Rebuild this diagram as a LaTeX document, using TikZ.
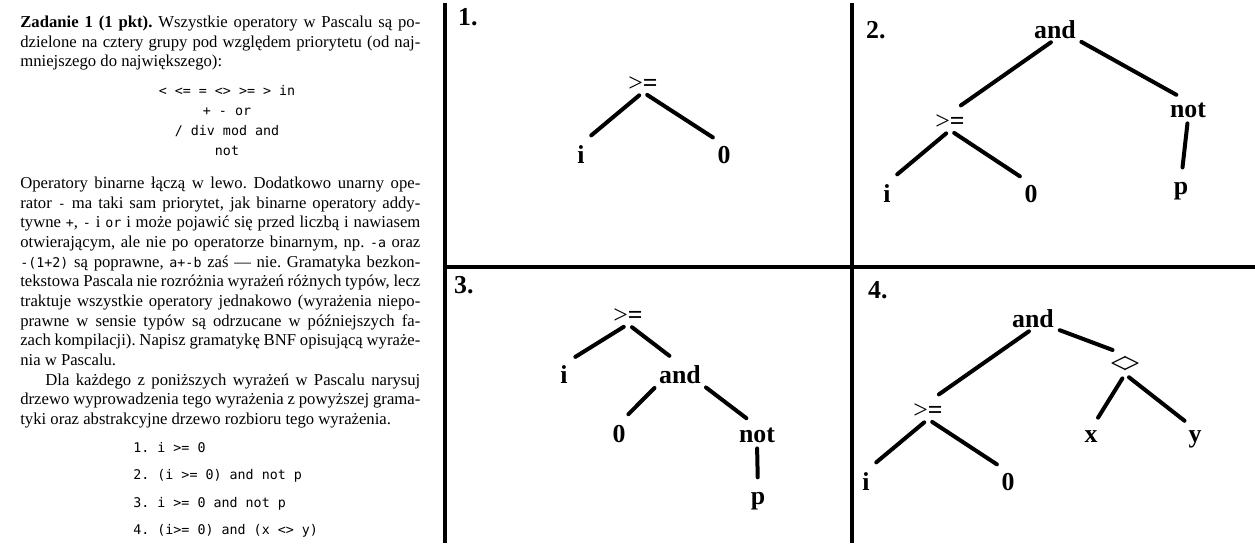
\documentclass[tikz,border=0pt]{standalone}
\usepackage{fontspec}
\setmainfont{Liberation Serif}
\setmonofont[Scale=0.8]{DejaVu Sans Mono}
\usepackage{tikz}
\frenchspacing

\newcommand{\geop}{{\mdseries>}=}

\begin{document}
\begin{tikzpicture}[x=0.6pt, y=-0.6pt,
      lbl/.style={font=\fontsize{15.5}{18}\selectfont\bfseries, inner sep=0.5pt, anchor=base},
      edge/.style={line width=2.4pt, line cap=round, shorten <=3pt, shorten >=8pt},
      rule/.style={line width=2.7pt},
      prose/.style={anchor=north west, text width=240pt, inner sep=0, align=justify,
        font=\fontsize{10}{11.8}\selectfont}
      ]
  \useasboundingbox (0,0) rectangle (1255,543);

  \node[prose] (zad) at (20,15.5) {\textbf{Zadanie 1 (1 pkt).} Wszystkie operatory w Pascalu są po-\linebreak dzielone na cztery grupy pod względem priorytetu (od naj-\linebreak mniejszego do największego):};
  \node[anchor=north, align=center, inner sep=0, font=\ttfamily\fontsize{10}{12}\selectfont] (ops) at (227,85)
    {< <= = <> >= > in\\+ - or\\/ div mod and\\not};
  \node[prose] (opis) at (20,176.5) {Operatory binarne łączą w lewo. Dodatkowo unarny ope-\linebreak rator \texttt{-} ma taki sam priorytet, jak binarne operatory addy-\linebreak tywne \texttt{+}, \texttt{-} i \texttt{or} i może pojawić się przed liczbą i nawiasem\linebreak otwierającym, ale nie po operatorze binarnym, np. \texttt{-a} oraz\linebreak \texttt{-(1+2)} są poprawne, \texttt{a+-b} zaś — nie. Gramatyka bezkon-\linebreak tekstowa Pascala nie rozróżnia wyrażeń różnych typów, lecz\linebreak traktuje wszystkie operatory jednakowo (wyrażenia niepo-\linebreak prawne w sensie typów są odrzucane w późniejszych fa-\linebreak zach kompilacji). Napisz gramatykę BNF opisującą wyraże-\linebreak nia w Pascalu.\par
    \hspace*{15pt}Dla każdego z poniższych wyrażeń w Pascalu narysuj\linebreak drzewo wyprowadzenia tego wyrażenia z powyższej grama-\linebreak tyki oraz abstrakcyjne drzewo rozbioru tego wyrażenia.};
  \node[anchor=north west, align=left, inner sep=0, font=\ttfamily\fontsize{10}{16.4}\selectfont] (lista) at (133,442)
    {1. i >= 0\\2. (i >= 0) and not p\\3. i >= 0 and not p\\4. (i>= 0) and (x <> y)};

  \draw[rule] (445,3) -- (445,543);
  \draw[rule] (852,3) -- (852,543);
  \draw[rule] (445,267) -- (1255,267);

  \node[lbl, anchor=base west] (nr1) at (457,25) {1.};
  \node[lbl, anchor=base west] (nr2) at (865,38) {2.};
  \node[lbl, anchor=base west] (nr3) at (453,293) {3.};
  \node[lbl, anchor=base west] (nr4) at (867,298) {4.};

  \node[lbl] (ge1) at (643,91) {\geop};
  \node[lbl] (i1) at (581,163) {i};
  \node[lbl] (z1) at (724,163) {0};
  \draw[edge] (ge1.south) -- (i1.north);
  \draw[edge] (ge1.south) -- (z1.north);

  \node[lbl] (and2) at (1055,38) {and};
  \node[lbl] (ge2) at (950,129) {\geop};
  \node[lbl] (not2) at (1188,117) {not};
  \node[lbl] (i2) at (887,202) {i};
  \node[lbl] (z2) at (1031,202) {0};
  \node[lbl] (p2) at (1181,194) {p};
  \draw[edge] (and2.south) -- (ge2.north);
  \draw[edge] (and2.south east) -- (not2.north);
  \draw[edge] (ge2.south) -- (i2.north);
  \draw[edge] (ge2.south) -- (z2.north);
  \draw[edge] (not2.south) -- (p2.north);

  \node[lbl] (ge3) at (628,323) {\geop};
  \node[lbl] (i3) at (564,383) {i};
  \node[lbl] (and3) at (680,383) {and};
  \node[lbl] (z3) at (619,442) {0};
  \node[lbl] (not3) at (757,442) {not};
  \node[lbl] (p3) at (758,504) {p};
  \draw[edge] (ge3.south) -- (i3.north);
  \draw[edge] (ge3.south) -- (and3.north);
  \draw[edge] (and3.south west) -- (z3.north);
  \draw[edge] (and3.south east) -- (not3.north);
  \draw[edge] (not3.south) -- (p3.north);

  \node[lbl] (and4) at (1033,327) {and};
  \node[lbl, font=\fontsize{18}{20}\selectfont] (ne4) at (1125,373) {<\kern-.13em>};
  \node[lbl] (ge4) at (928,418) {\geop};
  \node[lbl] (x4) at (1091,442) {x};
  \node[lbl] (y4) at (1195,442) {y};
  \node[lbl] (i4) at (866,490) {i};
  \node[lbl] (z4) at (1008,490) {0};
  \draw[edge] (and4.south) -- (ge4.north);
  \draw[edge] (and4.south east) -- (ne4.north);
  \draw[edge] (ne4.south) -- (x4.north);
  \draw[edge] (ne4.south) -- (y4.north);
  \draw[edge] (ge4.south) -- (i4.north);
  \draw[edge] (ge4.south) -- (z4.north);
\end{tikzpicture}
\end{document}
